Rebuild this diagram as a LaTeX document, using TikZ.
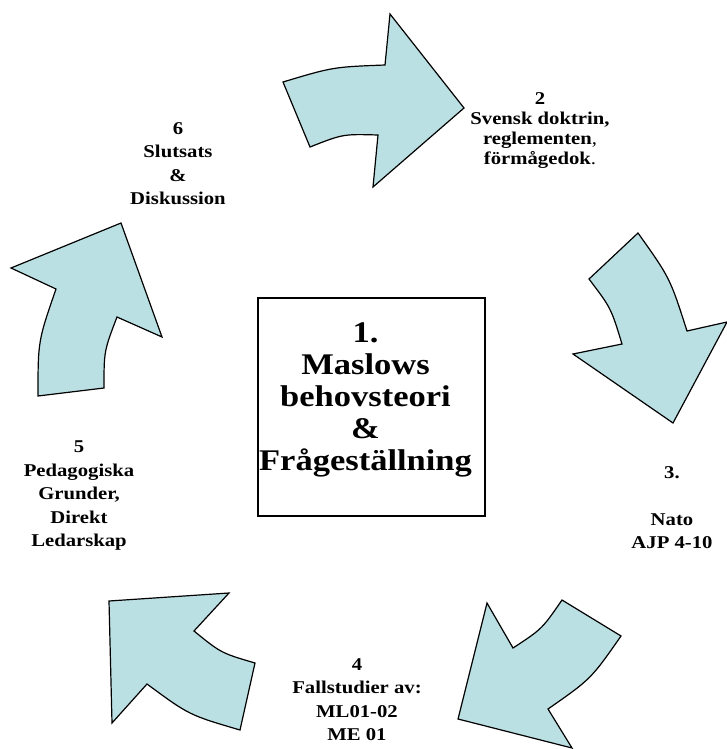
\documentclass[tikz,border=0pt]{standalone}
\usepackage{fontspec}
\setmainfont{Liberation Serif}[FakeStretch=1.15]
\usetikzlibrary{positioning}
\definecolor{cyclefill}{RGB}{187,224,227}

\begin{document}
\begin{tikzpicture}[x=1pt,y=-1pt,
  bluearrow/.style={draw=black,fill=cyclefill,line width=1.2pt,line join=miter},
  steplabel/.style={font=\bfseries\fontsize{18}{23.5}\selectfont,align=center,inner sep=0pt,anchor=north},
  mainbox/.style={draw=black,line width=1.6pt,minimum width=227pt,minimum height=218pt,inner sep=0pt},
  maintext/.style={font=\bfseries\fontsize{30}{32}\selectfont,align=center,inner sep=0pt}]
  \useasboundingbox (0,0) rectangle (726,749);
  % arrows, clockwise from the top
  \draw[bluearrow] (283,82) .. controls (333,67) .. (385,65) -- (390,14) -- (464,108) -- (373,187)
    -- (378,135) .. controls (343,134) .. (310,147) -- cycle;
  \draw[bluearrow] (589,279) .. controls (611,308) .. (622,344) -- (573,354) -- (673,423) -- (727,322)
    -- (687,331) .. controls (670,278) .. (638,233) -- cycle;
  \draw[bluearrow] (621,636) .. controls (591,679) .. (548,709) -- (572,748) -- (458,719) -- (487,603)
    -- (513,648) .. controls (542,629) .. (562,600) -- cycle;
  \draw[bluearrow] (240,730) .. controls (189,715) .. (147,684) -- (112,723) -- (109,601) -- (229,593)
    -- (194,631) .. controls (221,653) .. (255,663) -- cycle;
  \draw[bluearrow] (104,388) .. controls (104,351) .. (117,317) -- (162,337) -- (121,223) -- (11,268)
    -- (56,289) .. controls (38,341) .. (38,396) -- cycle;
  % centre box
  \node[mainbox] (m1) at (371.5,407) {};
  \node[maintext] (m1text) at ([xshift=-6pt,yshift=7pt]m1.center) {1.\\Maslows\\behovsteori\\\&\\Frågeställning};
  % step labels
  \node[steplabel,font=\bfseries\fontsize{18}{20}\selectfont] (s2) at (540,92)
    {2\\Svensk doktrin,\\reglementen{\mdseries ,}\\förmågedok{\mdseries .}};
  \node[steplabel] (s3) at (672,466) {3.\\\mbox{}\\Nato\\AJP 4-10};
  \node[steplabel] (s4) at (357,658) {4\\Fallstudier av:\\ML01-02\\ME 01};
  \node[steplabel] (s5) at (79,441) {5\\Pedagogiska\\Grunder,\\Direkt\\Ledarskap};
  \node[steplabel] (s6) at (178,122) {6\\Slutsats\\\&\\Diskussion};
\end{tikzpicture}
\end{document}
